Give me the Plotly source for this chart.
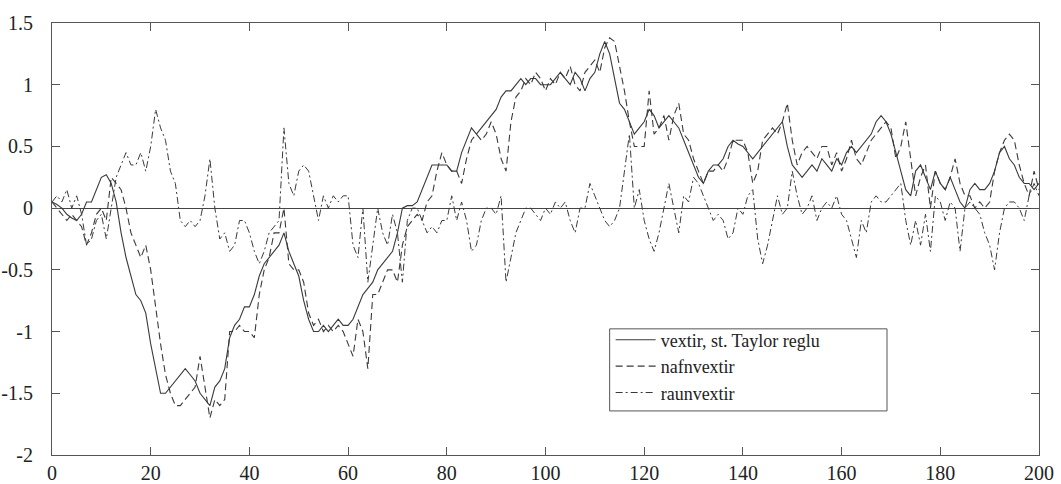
import plotly.graph_objects as go

x = list(range(0, 201))

vextir = [0.05, 0.03, 0.0, -0.05, -0.08, -0.1, -0.05, 0.05, 0.05, 0.15,
          0.25, 0.27, 0.2, 0.05, -0.2, -0.4, -0.55, -0.7, -0.75, -0.85,
          -1.1, -1.3, -1.5, -1.5, -1.45, -1.4, -1.35, -1.3, -1.35, -1.4,
          -1.5, -1.55, -1.6, -1.45, -1.4, -1.3, -1.05, -0.95, -0.9, -0.8,
          -0.8, -0.7, -0.55, -0.45, -0.4, -0.35, -0.3, -0.2, -0.35, -0.45,
          -0.55, -0.75, -0.9, -1.0, -1.0, -0.95, -1.0, -0.95, -0.9, -0.95,
          -0.95, -0.9, -0.8, -0.7, -0.65, -0.6, -0.5, -0.45, -0.4, -0.35,
          -0.2, 0.0, 0.02, 0.02, 0.05, 0.15, 0.25, 0.35, 0.35, 0.35,
          0.35, 0.3, 0.3, 0.45, 0.55, 0.65, 0.6, 0.65, 0.7, 0.75,
          0.8, 0.9, 0.95, 0.95, 1.0, 1.05, 1.0, 1.05, 1.05, 1.0,
          1.0, 1.0, 1.05, 1.1, 1.05, 1.0, 1.1, 1.05, 0.95, 1.05,
          1.1, 1.25, 1.35, 1.25, 1.05, 0.85, 0.8, 0.7, 0.6, 0.65,
          0.7, 0.8, 0.75, 0.65, 0.7, 0.75, 0.7, 0.65, 0.55, 0.45,
          0.35, 0.25, 0.2, 0.3, 0.35, 0.35, 0.4, 0.5, 0.55, 0.52,
          0.5, 0.45, 0.4, 0.45, 0.5, 0.55, 0.6, 0.65, 0.7, 0.5,
          0.35, 0.3, 0.25, 0.3, 0.35, 0.3, 0.4, 0.35, 0.3, 0.4,
          0.35, 0.45, 0.5, 0.45, 0.5, 0.55, 0.6, 0.7, 0.75, 0.7,
          0.6, 0.45, 0.3, 0.15, 0.1, 0.3, 0.35, 0.25, 0.15, 0.3,
          0.2, 0.15, 0.25, 0.15, 0.05, 0.0, 0.15, 0.2, 0.15, 0.15,
          0.2, 0.3, 0.45, 0.5, 0.4, 0.35, 0.25, 0.2, 0.2, 0.15,
          0.2]

nafnvextir = [0.05, 0.0, -0.05, -0.1, -0.05, -0.1, -0.15, -0.3, -0.2, -0.05,
              0.0, -0.1, 0.25, 0.2, 0.15, 0.0, -0.2, -0.3, -0.4, -0.3,
              -0.5, -0.8, -1.1, -1.35, -1.5, -1.6, -1.6, -1.55, -1.5, -1.45,
              -1.2, -1.45, -1.7, -1.55, -1.6, -1.55, -1.0, -1.0, -0.95, -1.0,
              -1.0, -1.05, -0.7, -0.5, -0.4, -0.2, -0.2, 0.0, -0.45, -0.5,
              -0.5, -0.6, -0.85, -0.95, -0.9, -1.0, -0.95, -1.0, -0.95, -1.0,
              -1.1, -1.2, -0.9, -1.0, -1.3, -0.7, -0.7, -0.6, -0.5, -0.5,
              -0.6, -0.3, -0.15, -0.1, -0.05, -0.1, 0.05, 0.1, 0.3, 0.45,
              0.35, 0.3, 0.3, 0.2, 0.4, 0.55, 0.6, 0.55, 0.6, 0.7,
              0.6, 0.4, 0.3, 0.7, 0.9, 0.95, 1.05, 1.0, 1.1, 1.05,
              0.95, 1.05, 1.0, 1.1, 1.05, 1.15, 1.0, 0.95, 1.1, 1.15,
              1.2, 1.1, 1.3, 1.38, 1.35, 1.15, 0.95, 0.7, 0.5, 0.5,
              0.5, 0.95, 0.6, 0.65, 0.75, 0.55, 0.75, 0.85, 0.6, 0.55,
              0.4, 0.3, 0.2, 0.3, 0.3, 0.35, 0.3, 0.4, 0.55, 0.55,
              0.55, 0.45, 0.2, 0.3, 0.55, 0.6, 0.65, 0.6, 0.7, 0.85,
              0.55, 0.35, 0.45, 0.5, 0.45, 0.4, 0.5, 0.5, 0.35, 0.45,
              0.3, 0.4, 0.55, 0.4, 0.35, 0.45, 0.55, 0.6, 0.65, 0.7,
              0.65, 0.4, 0.5, 0.7, 0.4, 0.1, 0.25, 0.35, 0.0, 0.3,
              0.2, 0.15, 0.25, 0.4, 0.2, 0.1, 0.1, 0.0, 0.05, 0.0,
              0.05, 0.3, 0.45, 0.55, 0.6, 0.55, 0.35, 0.2, 0.1, 0.3,
              0.15]

raunvextir = [0.05, 0.1, 0.05, 0.15, 0.0, 0.1, -0.05, -0.3, -0.25, -0.1,
              -0.05, -0.25, 0.0, 0.25, 0.35, 0.45, 0.35, 0.35, 0.45, 0.3,
              0.5, 0.8, 0.65, 0.55, 0.3, 0.2, -0.1, -0.15, -0.1, -0.15,
              -0.1, 0.1, 0.4, 0.0, -0.25, -0.2, -0.35, -0.3, -0.1, -0.1,
              -0.2, -0.35, -0.45, -0.35, -0.2, -0.15, -0.1, 0.65, 0.2, 0.1,
              0.3, 0.35, 0.3, 0.1, -0.1, 0.1, 0.0, 0.1, 0.05, 0.1,
              0.1, -0.3, -0.4, 0.0, -0.6, -0.3, 0.0, -0.2, -0.3, -0.05,
              -0.2, -0.6, -0.1, 0.0, 0.0, -0.1, -0.2, -0.15, -0.2, -0.1,
              -0.1, 0.1, -0.1, 0.05, -0.1, -0.35, -0.3, -0.1, 0.0, 0.0,
              -0.05, 0.1, -0.6, -0.4, -0.2, -0.1, 0.0, 0.0, -0.05, -0.1,
              0.0, -0.05, 0.05, 0.0, 0.05, -0.1, -0.2, 0.0, 0.0, 0.2,
              0.1, 0.0, -0.1, -0.15, -0.1, 0.0, 0.3, 0.6, 0.0, 0.15,
              -0.1, -0.25, -0.35, -0.2, 0.0, 0.2, 0.0, -0.2, 0.1, 0.05,
              0.25, 0.2, 0.1, 0.0, -0.1, -0.05, -0.1, -0.25, -0.2, 0.0,
              -0.05, 0.1, 0.15, -0.25, -0.45, -0.3, -0.1, 0.1, -0.05, 0.0,
              0.3, 0.1, -0.05, 0.0, 0.1, -0.1, 0.0, 0.05, 0.0, 0.1,
              -0.05, -0.1, -0.25, -0.4, -0.1, -0.2, 0.05, 0.1, 0.05, 0.05,
              0.1, 0.15, 0.2, -0.1, -0.3, -0.1, -0.3, -0.05, -0.35, 0.1,
              0.05, -0.1, 0.05, 0.0, -0.35, 0.0, 0.05, 0.0, -0.05, -0.2,
              -0.3, -0.5, -0.2, 0.0, 0.05, 0.05, 0.0, -0.1, 0.1, 0.2,
              0.1]

x_ticks = [0, 20, 40, 60, 80, 100, 120, 140, 160, 180, 200]
y_ticks = [-2, -1.5, -1, -0.5, 0, 0.5, 1, 1.5]
y_tick_text = ["-2", "-1.5", "-1", "-0.5", "0", "0.5", "1", "1.5"]
names = ["vextir, st. Taylor reglu", "nafnvextir", "raunvextir"]

font_family = "Liberation Serif"
line_col = "#3a3a3a"

fig = go.Figure()
fig.add_trace(go.Scatter(x=x, y=vextir, mode="lines", name=names[0],
                         line=dict(color=line_col, width=1.1)))
fig.add_trace(go.Scatter(x=x, y=nafnvextir, mode="lines", name=names[1],
                         line=dict(color=line_col, width=1.1, dash="7px,4px")))
fig.add_trace(go.Scatter(x=x, y=raunvextir, mode="lines", name=names[2],
                         line=dict(color=line_col, width=1.0, dash="7px,3px,2px,3px")))

axis_common = dict(showline=True, linecolor="#555", linewidth=1.2, mirror="ticks",
                   ticks="inside", ticklen=8, tickcolor="#555", tickwidth=1,
                   showgrid=False, automargin=False,
                   tickfont=dict(family=font_family, size=20, color="#222"))

fig.update_xaxes(range=[0, 200], tickvals=x_ticks, zeroline=False, **axis_common)
fig.update_yaxes(range=[-2, 1.5], tickvals=y_ticks, ticktext=y_tick_text,
                 zeroline=True, zerolinecolor="#444", zerolinewidth=1.2,
                 ticklabelstandoff=14, **axis_common)

# legend frame (paper coordinates)
fig.add_shape(type="rect", xref="paper", yref="paper",
              x0=0.565, x1=0.846, y0=0.102, y1=0.292,
              line=dict(color="#555", width=1), fillcolor="white", layer="above")

fig.update_layout(
    width=1061, height=484,
    margin=dict(l=52, r=22, t=23, b=29),
    paper_bgcolor="white", plot_bgcolor="white",
    font=dict(family=font_family),
    showlegend=True,
    legend=dict(x=0.566, y=0.309, xanchor="left", yanchor="top",
                bgcolor="rgba(0,0,0,0)", borderwidth=0,
                font=dict(family=font_family, size=18, color="#222"),
                tracegroupgap=0, itemwidth=40),
)

fig.write_html("out.html")
